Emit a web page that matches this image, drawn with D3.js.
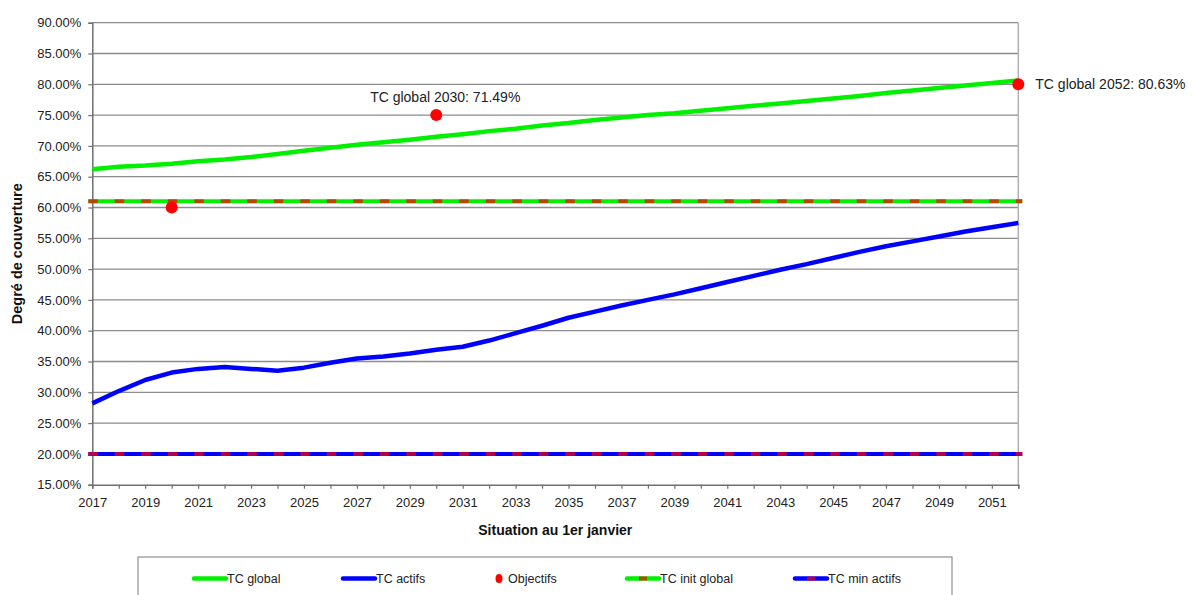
<!DOCTYPE html>
<html>
<head>
<meta charset="utf-8">
<script src="https://cdn.jsdelivr.net/npm/d3@7"></script>
<style>
  html, body { margin: 0; padding: 0; background: #fff; }
  svg { display: block; font-family: "Liberation Sans", Arial, sans-serif; }
</style>
</head>
<body>
<svg id="chart" width="1193" height="595"></svg>
<script>
// Years on the horizontal axis
const years = d3.range(2017, 2053);

// Degré de couverture global (%)
const tcGlobal = [66.2, 66.6, 66.8, 67.1, 67.5, 67.8, 68.2, 68.7, 69.2, 69.7,
                  70.2, 70.6, 71.0, 71.49, 71.9, 72.4, 72.8, 73.3, 73.7, 74.2,
                  74.6, 75.0, 75.3, 75.7, 76.1, 76.5, 76.9, 77.3, 77.7, 78.1,
                  78.6, 79.0, 79.4, 79.8, 80.2, 80.63];

// Degré de couverture des actifs (%)
const tcActifs = [28.2, 30.2, 32.0, 33.2, 33.8, 34.1, 33.8, 33.5, 34.0, 34.8,
                  35.5, 35.8, 36.3, 36.9, 37.4, 38.4, 39.6, 40.8, 42.1, 43.1,
                  44.1, 45.0, 45.9, 46.9, 47.9, 48.9, 49.9, 50.8, 51.8, 52.8,
                  53.7, 54.5, 55.3, 56.1, 56.8, 57.5];

// Objectifs
const objYears  = [2020, 2030, 2052];
const objValues = [60, 75, 80];

// Reference levels
const tcInitGlobal = 61;
const tcMinActifs  = 20;

// Value labels
const labelYears = [2030, 2052];
const labelTexts = ["TC global 2030: 71.49%", "TC global 2052: 80.63%"];

// Axis ticks
const yTicks = d3.range(15, 90.001, 5);

const svg = d3.select("#chart");
const plotL = 92.3, plotR = 1018.3, plotT = 22.7, plotB = 484.7;

const x = d3.scaleLinear().domain([2017, 2052]).range([plotL, plotR]);
const y = d3.scaleLinear().domain([15, 90]).range([plotB, plotT]);

const GREEN = "#00f000", BLUE = "#0000ff", RED = "#ff0000";

// Horizontal gridlines
svg.append("g")
  .selectAll("line")
  .data(yTicks.filter(v => v > 15))
  .join("line")
  .attr("x1", plotL).attr("x2", plotR)
  .attr("y1", d => y(d)).attr("y2", d => y(d))
  .attr("stroke", "#8c8c8c").attr("stroke-width", 1.3);

// Right border of the plot area
svg.append("line")
  .attr("x1", plotR).attr("x2", plotR)
  .attr("y1", plotT).attr("y2", plotB)
  .attr("stroke", "#b0b0b0").attr("stroke-width", 1.5);

// Y axis
const yAxis = svg.append("g")
  .attr("transform", `translate(${plotL},0)`)
  .call(d3.axisLeft(y).tickValues(yTicks).tickSize(4).tickPadding(7)
          .tickFormat(d => d.toFixed(2) + "%"));
yAxis.select(".domain").attr("stroke", "#707070").attr("stroke-width", 1.5);
yAxis.selectAll(".tick line").attr("stroke", "#707070").attr("stroke-width", 1.2);
yAxis.selectAll("text").attr("font-size", 13).attr("fill", "#222")
  .attr("font-family", "Liberation Sans, Arial, sans-serif");

// X axis
const xAxis = svg.append("g")
  .attr("transform", `translate(0,${plotB})`)
  .call(d3.axisBottom(x).tickValues(years).tickSize(4).tickPadding(9)
          .tickFormat(d => (d % 2 === 1 && d < 2052) ? String(d) : ""));
xAxis.select(".domain").attr("stroke", "#707070").attr("stroke-width", 1.5);
xAxis.selectAll(".tick line").attr("stroke", "#707070").attr("stroke-width", 1.2);
xAxis.selectAll("text").attr("font-size", 13).attr("fill", "#222")
  .attr("font-family", "Liberation Sans, Arial, sans-serif");

// Reference lines: solid colour with red dashes on top
function refLine(value, color) {
  svg.append("line")
    .attr("x1", x(2017) - 4).attr("x2", x(2052) + 4)
    .attr("y1", y(value)).attr("y2", y(value))
    .attr("stroke", color).attr("stroke-width", 4);
  svg.append("line")
    .attr("x1", x(2017) - 4).attr("x2", x(2052) + 4)
    .attr("y1", y(value)).attr("y2", y(value))
    .attr("stroke", RED).attr("stroke-opacity", 0.7)
    .attr("stroke-width", 4).attr("stroke-dasharray", "9.5 17");
}
refLine(tcInitGlobal, GREEN);
refLine(tcMinActifs, BLUE);

// Series lines
const line = d3.line().x((d, i) => x(years[i])).y(d => y(d));
svg.append("path").datum(tcGlobal).attr("d", line)
  .attr("fill", "none").attr("stroke", GREEN).attr("stroke-width", 4.5)
  .attr("stroke-linejoin", "round");
svg.append("path").datum(tcActifs).attr("d", line)
  .attr("fill", "none").attr("stroke", BLUE).attr("stroke-width", 4.5)
  .attr("stroke-linejoin", "round");

// Objectifs
svg.append("g").selectAll("circle")
  .data(objYears)
  .join("circle")
  .attr("cx", d => x(d)).attr("cy", (d, i) => y(objValues[i]))
  .attr("r", 6).attr("fill", RED);

// Value labels, placed next to the matching objective marker
const lbl = svg.append("g").attr("font-size", 14).attr("fill", "#222");
lbl.append("text")
  .attr("x", x(labelYears[0]) + 9)
  .attr("y", y(objValues[objYears.indexOf(labelYears[0])]) - 13)
  .attr("text-anchor", "middle")
  .text(labelTexts[0]);
lbl.append("text")
  .attr("x", x(labelYears[1]) + 17)
  .attr("y", y(objValues[objYears.indexOf(labelYears[1])]) + 5)
  .attr("text-anchor", "start")
  .text(labelTexts[1]);

// Axis titles
svg.append("text")
  .attr("transform", `translate(22,${(plotT + plotB) / 2}) rotate(-90)`)
  .attr("text-anchor", "middle")
  .attr("font-size", 14.5).attr("font-weight", "bold").attr("fill", "#111")
  .text("Degré de couverture");
svg.append("text")
  .attr("x", (plotL + plotR) / 2).attr("y", 535)
  .attr("text-anchor", "middle")
  .attr("font-size", 14).attr("font-weight", "bold").attr("fill", "#111")
  .text("Situation au 1er janvier");

// Legend
svg.append("rect")
  .attr("x", 138).attr("y", 557).attr("width", 814).attr("height", 50)
  .attr("fill", "#fff").attr("stroke", "#909090").attr("stroke-width", 1.2);

const legendItems = [
  { label: "TC global",      type: "line", color: GREEN, x: 194 },
  { label: "TC actifs",      type: "line", color: BLUE,  x: 343 },
  { label: "Objectifs",      type: "dot",  color: RED,   x: 492 },
  { label: "TC init global", type: "ref",  color: GREEN, x: 627 },
  { label: "TC min actifs",  type: "ref",  color: BLUE,  x: 795 }
];
const ly = 578.5;
const lg = svg.append("g");
legendItems.forEach(it => {
  if (it.type === "dot") {
    lg.append("ellipse").attr("cx", it.x + 7).attr("cy", ly).attr("rx", 3.5).attr("ry", 4.5).attr("fill", it.color);
    lg.append("text").attr("x", it.x + 16).attr("y", ly + 4.5)
      .attr("font-size", 12.5).attr("fill", "#222").text(it.label);
  } else {
    lg.append("line").attr("x1", it.x).attr("x2", it.x + 32).attr("y1", ly).attr("y2", ly)
      .attr("stroke", it.color).attr("stroke-width", 4.5).attr("stroke-linecap", "round");
    if (it.type === "ref") {
      lg.append("line").attr("x1", it.x + 12).attr("x2", it.x + 20).attr("y1", ly).attr("y2", ly)
        .attr("stroke", RED).attr("stroke-opacity", 0.7).attr("stroke-width", 4);
    }
    lg.append("text").attr("x", it.x + 33).attr("y", ly + 4.5)
      .attr("font-size", 12.5).attr("fill", "#222").text(it.label);
  }
});
</script>
</body>
</html>
